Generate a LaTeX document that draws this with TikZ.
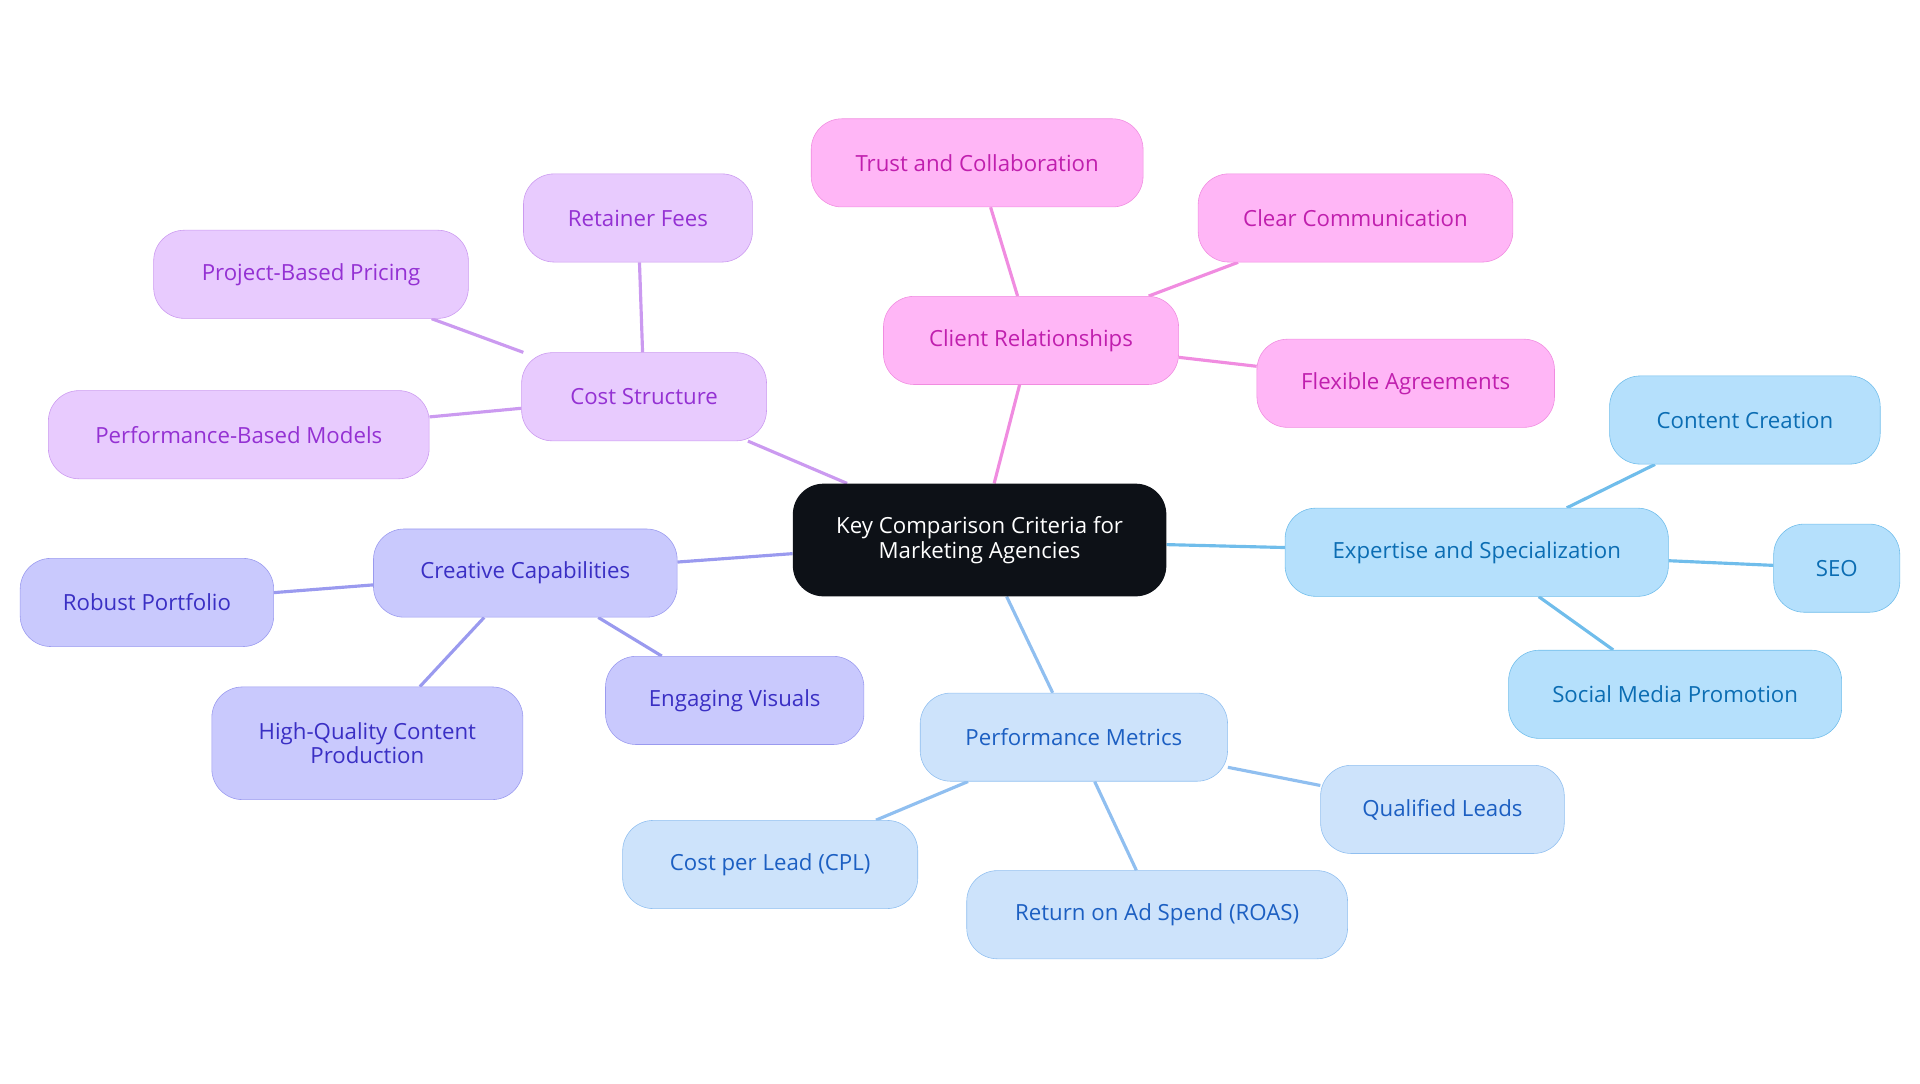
\documentclass[tikz,border=0pt]{standalone}
\usepackage{fontspec}
\setmainfont{Open Sans}
\usetikzlibrary{backgrounds}
\definecolor{hubfill}{HTML}{0D1117}
\definecolor{pinkfill}{HTML}{FFB6F6}\definecolor{pinkline}{HTML}{F08CE0}\definecolor{pinktext}{HTML}{C01FAE}
\definecolor{skyfill}{HTML}{B5E0FC}\definecolor{skyline}{HTML}{70BDEB}\definecolor{skytext}{HTML}{0B6DB3}
\definecolor{palefill}{HTML}{CDE3FB}\definecolor{paleline}{HTML}{90BFF0}\definecolor{paletext}{HTML}{1C5FC2}
\definecolor{lavfill}{HTML}{C9C9FD}\definecolor{lavline}{HTML}{9A9AEF}\definecolor{lavtext}{HTML}{3A2FC4}
\definecolor{purpfill}{HTML}{E8CBFE}\definecolor{purpline}{HTML}{CB9AF0}\definecolor{purptext}{HTML}{9431D3}
\begin{document}
\begin{tikzpicture}[x=0.03cm,y=-0.03cm,
  box/.style={rounded corners=0.75cm,minimum height=2.16cm,minimum width=#1*0.03cm,
    align=center,font=\fontsize{15.5}{17}\selectfont,inner sep=0pt},
  pink/.style={box=#1,fill=pinkfill,draw=pinkline,text=pinktext},
  sky/.style={box=#1,fill=skyfill,draw=skyline,text=skytext},
  pale/.style={box=#1,fill=palefill,draw=paleline,text=paletext},
  lav/.style={box=#1,fill=lavfill,draw=lavline,text=lavtext},
  purp/.style={box=#1,fill=purpfill,draw=purpline,text=purptext},
  link/.style={line width=2.2pt,draw=#1}]
\useasboundingbox (0,0) rectangle (1568,885);
\node[box=305,minimum height=2.76cm,fill=hubfill,text=white] (hub) at (800,441) {Key Comparison Criteria for\\Marketing Agencies};
%% cost
\node[purp=200] (cost) at (526,324) {Cost Structure};
\node[purp=187] (retainer) at (521,178) {Retainer Fees};
\node[purp=257] (project) at (254,224) {Project-Based Pricing};
\node[purp=311] (perfmodels) at (195,355) {Performance-Based Models};
%% client
\node[pink=241] (client) at (842,278) {Client Relationships};
\node[pink=271] (trust) at (798,133) {Trust and Collaboration};
\node[pink=257] (clear) at (1107,178) {Clear Communication};
\node[pink=243] (flexible) at (1148,313) {Flexible Agreements};
%% expertise
\node[sky=313] (expert) at (1206,451) {Expertise and Specialization};
\node[sky=221] (content) at (1425,343) {Content Creation};
\node[sky=103] (seo) at (1500,464) {SEO};
\node[sky=272] (social) at (1368,567) {Social Media Promotion};
%% metrics
\node[pale=251] (metrics) at (877,602) {Performance Metrics};
\node[pale=199] (leads) at (1178,661) {Qualified Leads};
\node[pale=311] (roas) at (945,747) {Return on Ad Spend (ROAS)};
\node[pale=241] (cpl) at (629,706) {Cost per Lead (CPL)};
%% creative
\node[lav=248] (creative) at (429,468) {Creative Capabilities};
\node[lav=207] (portfolio) at (120,492) {Robust Portfolio};
\node[lav=254,minimum height=2.76cm] (hq) at (300,607) {High-Quality Content\\Production};
\node[lav=211] (visuals) at (600,572) {Engaging Visuals};
\begin{scope}[on background layer]
\draw[link=purpline] (hub) -- (cost) (cost) -- (retainer) (cost) -- (project) (cost) -- (perfmodels);
\draw[link=pinkline] (hub) -- (client) (client) -- (trust) (client) -- (clear) (client) -- (flexible);
\draw[link=skyline] (hub) -- (expert) (expert) -- (content) (expert) -- (seo) (expert) -- (social);
\draw[link=paleline] (hub) -- (metrics) (metrics) -- (leads) (metrics) -- (roas) (metrics) -- (cpl);
\draw[link=lavline] (hub) -- (creative) (creative) -- (portfolio) (creative) -- (hq) (creative) -- (visuals);
\end{scope}
\end{tikzpicture}
\end{document}
